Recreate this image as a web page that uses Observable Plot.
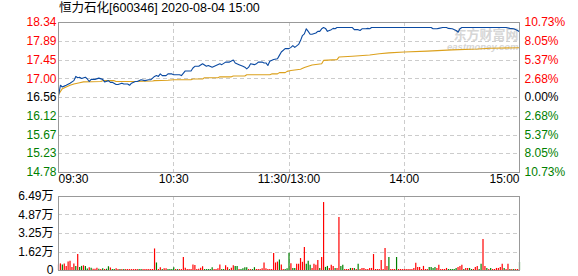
<!DOCTYPE html>
<html><head><meta charset="utf-8">
<script src="https://cdn.jsdelivr.net/npm/d3@7"></script>
<script src="https://cdn.jsdelivr.net/npm/@observablehq/plot@0.6"></script>
<style>
body{margin:0;background:#fff;}
#wrap{position:relative;width:578px;height:276px;overflow:hidden;font-family:"Liberation Sans",Arial,sans-serif;}
#title{position:absolute;left:59px;top:1px;font-size:12.5px;line-height:15px;color:#000;font-family:"Liberation Sans","Noto Sans CJK SC",sans-serif;white-space:nowrap;}
#main,#vol{position:absolute;left:0;}
#main{top:0}
#vol{top:190px}
</style></head>
<body><div id="wrap"><div id="main"></div><div id="vol"></div><div id="title">恒力石化[600346] 2020-08-04 15:00</div></div>
<script>
const prevClose = 16.56;
const priceMinutes = [0,1,2,3,4,6,8,9,10,11,12,14,15,16,17,19,21,23,24,26,27,28,30,31,33,34,36,37,38,40,41,43,45,47,48,50,51,52,53,54,56,57,59,60,63,64,66,69,70,71,73,75,77,78,80,82,84,85,87,89,91,92,94,96,97,98,99,100,102,103,104,106,107,108,109,110,112,114,115,116,118,119,120,121,122,123,125,126,127,128,129,130,131,132,134,135,136,137,138,139,140,142,143,144,145,153,154,156,157,158,160,161,162,163,194,195,197,198,200,202,203,205,207,208,209,210,233,235,237,239,240];
const prices = [16.60,16.85,16.81,16.83,16.85,16.90,16.96,17.06,17.03,17.04,17.01,17.04,17.00,16.94,16.99,16.99,17.02,16.99,16.93,16.96,16.92,16.92,16.87,16.87,16.90,16.88,16.88,16.85,16.90,16.94,16.94,16.98,16.96,16.98,16.98,17.06,17.08,17.06,17.12,17.08,17.08,17.12,17.12,17.10,17.10,17.08,17.19,17.19,17.26,17.30,17.30,17.36,17.30,17.32,17.28,17.32,17.36,17.34,17.40,17.40,17.45,17.38,17.34,17.30,17.28,17.24,17.28,17.36,17.34,17.36,17.40,17.40,17.38,17.38,17.32,17.42,17.46,17.48,17.56,17.64,17.72,17.72,17.72,17.75,17.79,17.75,17.82,17.91,18.03,18.07,18.19,18.13,18.06,18.06,18.09,18.13,18.13,18.19,18.22,18.20,18.13,18.17,18.20,18.19,18.22,18.22,18.17,18.17,18.15,18.19,18.19,18.20,18.19,18.22,18.22,18.19,18.19,18.20,18.22,18.22,18.20,18.19,18.15,18.11,18.19,18.22,18.22,18.20,18.19,18.15,18.12];
const avgMinutes = [0,2,4,6,8,11,13,22,23,29,30,40,49,50,57,60,69,70,75,76,83,84,90,91,97,98,110,111,114,115,118,119,121,126,128,132,137,138,145,146,153,162,167,172,180,192,205,218,225,240];
const avgPrices = [16.63,16.77,16.81,16.85,16.88,16.91,16.93,16.94,16.96,16.96,16.94,16.94,16.95,16.96,16.97,16.98,16.98,17.00,17.00,17.03,17.03,17.05,17.05,17.07,17.07,17.10,17.10,17.12,17.12,17.15,17.15,17.18,17.20,17.23,17.27,17.33,17.36,17.44,17.46,17.52,17.54,17.57,17.60,17.62,17.64,17.66,17.69,17.71,17.73,17.74];
const volumes = [
0.49,0.58,0.49,0.58,0.36,0.74,0.82,0.27,0.58,0.36,
1.40,0.27,0.36,0.41,0.36,0.14,0.25,0.19,0.11,0.11,
0.19,0.11,0.08,0.16,0.08,0.11,0.33,0.22,0.08,0.08,
0.16,0.08,0.08,0.08,0.08,0.08,0.08,0.08,0.08,0.08,
0.08,0.08,0.08,0.08,0.08,0.08,0.08,0.08,0.08,0.08,
1.89,0.66,0.08,0.25,0.08,0.16,0.16,0.08,0.08,0.08,
0.25,0.08,0.08,0.08,0.08,1.15,0.19,0.08,0.08,0.08,
0.49,0.44,0.08,0.11,0.19,0.33,0.08,0.08,0.08,0.08,
0.25,0.08,0.08,0.16,0.49,0.08,0.08,0.41,0.25,0.08,
0.19,0.41,0.36,0.36,0.08,0.08,0.16,0.25,0.25,0.08,
0.08,0.08,0.25,0.08,0.08,0.08,0.16,0.66,0.16,0.08,
0.08,0.08,1.48,0.66,0.74,0.91,0.49,0.08,0.08,0.16,1.52,
0.60,0.18,0.18,0.54,0.54,1.05,0.72,2.02,0.54,0.81,
0.45,0.18,0.54,0.45,0.88,0.18,1.14,5.96,0.27,0.36,
0.18,0.45,0.36,0.18,0.18,4.65,0.36,0.45,0.09,0.09,
0.09,0.18,0.18,0.18,0.09,0.54,0.09,0.18,0.18,0.09,
0.09,0.18,0.18,1.40,0.09,0.09,0.09,0.88,0.09,1.93,
0.36,1.14,0.09,0.09,0.09,1.14,0.09,0.09,0.09,0.09,
0.09,0.09,0.09,0.09,0.18,0.63,0.27,0.27,0.09,0.36,
0.09,0.09,0.27,0.27,0.18,0.27,0.18,0.45,0.09,0.09,
0.09,0.18,0.09,0.09,0.09,0.09,0.18,0.27,0.36,0.45,
0.09,0.18,0.18,0.18,0.09,0.09,0.27,0.36,0.09,0.54,
2.72,0.36,0.18,0.09,0.18,0.09,0.09,0.18,0.18,0.27,
0.54,0.18,0.09,0.54,0.09,0.09,0.09,0.09,0.09,0.72];
const volUp = [
1,1,0,1,1,1,1,1,1,0,
1,0,0,1,0,0,1,0,1,1,
1,0,1,0,1,0,0,1,0,0,
1,1,0,1,0,1,1,1,1,1,
1,1,0,0,1,1,1,1,1,1,
1,0,1,1,0,1,1,0,0,0,
0,1,0,1,1,1,1,1,1,1,
1,1,1,1,1,1,0,0,0,0,
0,1,1,1,1,0,0,1,1,0,
1,1,0,0,1,0,0,0,0,1,
1,0,0,1,1,1,1,1,1,1,
1,1,1,1,1,0,1,1,0,0,0,
1,0,0,1,1,1,1,1,0,0,
0,1,1,1,1,0,1,1,0,0,
1,1,1,0,1,1,0,0,1,1,
1,0,1,0,1,0,1,1,1,1,
1,1,1,1,1,1,1,1,1,1,
1,0,1,1,1,0,1,1,1,1,
1,1,1,1,1,1,1,1,1,1,
1,1,0,0,0,0,1,1,1,1,
1,1,0,0,0,0,0,1,1,1,
0,1,1,0,0,1,1,1,0,0,
1,1,0,1,0,1,1,1,1,1,
1,0,1,1,0,1,0,1,1,0];
const priceTicks = [18.34,17.89,17.45,17.00,16.56,16.12,15.67,15.23,14.78];
const pctLabels = ["10.73%","8.05%","5.37%","2.68%","0.00%","2.68%","5.37%","8.05%","10.73%"];
const volTicks = [6.49,4.87,3.25,1.62,0];
const volTickLabels = ["6.49万","4.87万","3.25万","1.62万","0"];
const timeTicks = [0,60,120,180,240];
const timeLabels = ["09:30","10:30","11:30/13:00","14:00","15:00"];

const RED = "#ff0000", GREEN = "#008000", GRID = "#cccccc", FRAME = "#999999";
const tickColor = v => v > prevClose + 1e-9 ? RED : (v < prevClose - 1e-9 ? GREEN : "#000");
const priceData = priceMinutes.map((m, i) => ({m, p: prices[i]}));
const avgData = avgMinutes.map((m, i) => ({m, p: avgPrices[i]}));
const volData = volumes.map((v, i) => ({m: i, v, up: volUp[i]}));
const tickData = priceTicks.map((v, i) => ({v, pct: pctLabels[i]}));
const timeData = timeTicks.map((t, i) => ({t, label: timeLabels[i]}));
const FONT = "Liberation Sans, Arial, sans-serif";

const mainChart = Plot.plot({
  width: 578, height: 190,
  marginLeft: 58, marginRight: 59, marginTop: 22, marginBottom: 18,
  x: {domain: [0, 240], axis: null},
  y: {domain: [14.78, 18.34], axis: null},
  style: {background: "transparent", overflow: "visible", fontFamily: FONT},
  marks: [
    Plot.ruleY(priceTicks.slice(1, -1), {stroke: GRID, strokeDasharray: "4,3", shapeRendering: "crispEdges"}),
    Plot.ruleX(timeTicks.slice(1, -1), {stroke: GRID, strokeDasharray: "4,3", shapeRendering: "crispEdges"}),
    Plot.text(["东方财富网"], {frameAnchor: "top-right", textAnchor: "end", dx: -1, dy: 7, fontSize: 13, fontWeight: "bold", fill: "#d6d6d6", fontFamily: "Noto Sans CJK SC", lineHeight: 1}),
    Plot.text(["eastmoney.com"], {frameAnchor: "top-right", textAnchor: "end", dx: -1, dy: 21, fontSize: 9.5, fontWeight: "bold", fontStyle: "italic", fill: "#d6d6d6"}),
    Plot.line(avgData, {x: "m", y: "p", stroke: "#dca11d", strokeWidth: 1.1}),
    Plot.line(priceData, {x: "m", y: "p", stroke: "#0b4aa2", strokeWidth: 1.1}),
    Plot.frame({stroke: FRAME, shapeRendering: "crispEdges"}),
    Plot.text(tickData, {frameAnchor: "left", y: "v", text: d => d.v.toFixed(2), textAnchor: "end", dx: -2, fontSize: 12, fill: d => tickColor(d.v)}),
    Plot.text(tickData, {frameAnchor: "right", y: "v", text: "pct", textAnchor: "start", dx: 5, fontSize: 12, fill: d => tickColor(d.v)}),
    Plot.text(timeData.slice(0, 1), {x: "t", frameAnchor: "bottom", dy: 10, text: "label", textAnchor: "start", fontSize: 12, fill: "#000"}),
    Plot.text(timeData.slice(1, -1), {x: "t", frameAnchor: "bottom", dy: 10, text: "label", textAnchor: "middle", fontSize: 12, fill: "#000"}),
    Plot.text(timeData.slice(-1), {x: "t", frameAnchor: "bottom", dy: 10, text: "label", textAnchor: "end", fontSize: 12, fill: "#000"})
  ]
});
document.getElementById("main").appendChild(mainChart);

const volChart = Plot.plot({
  width: 578, height: 86,
  marginLeft: 58, marginRight: 59, marginTop: 6, marginBottom: 6,
  x: {domain: [0, 240], axis: null},
  y: {domain: [0, 6.49], axis: null},
  style: {background: "transparent", overflow: "visible", fontFamily: FONT},
  marks: [
    Plot.ruleY(volTicks.slice(1, -1), {stroke: GRID, strokeDasharray: "4,3", shapeRendering: "crispEdges"}),
    Plot.ruleX(timeTicks.slice(1, -1), {stroke: GRID, strokeDasharray: "4,3", shapeRendering: "crispEdges"}),
    Plot.ruleX(volData, {x: "m", y1: 0, y2: "v", stroke: d => d.up ? RED : GREEN, strokeWidth: 1.2}),
    Plot.frame({stroke: FRAME, shapeRendering: "crispEdges"}),
    Plot.text(volTicks.map((v, i) => ({v, label: volTickLabels[i]})), {frameAnchor: "left", y: "v", text: "label", textAnchor: "end", dx: -5, fontSize: 12, fill: "#000", fontFamily: "Liberation Sans, Noto Sans CJK SC, sans-serif"})
  ]
});
document.getElementById("vol").appendChild(volChart);
</script>
</body></html>
